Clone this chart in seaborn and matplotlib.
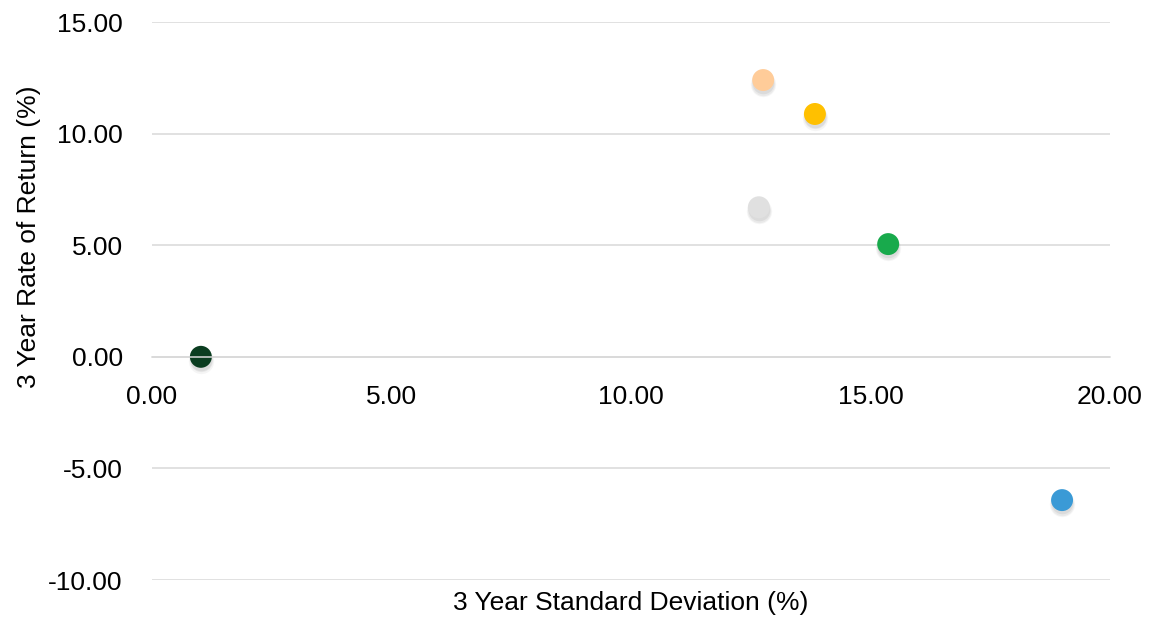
import matplotlib
matplotlib.use("Agg")
import matplotlib.pyplot as plt
import matplotlib.transforms as mtransforms
import pandas as pd
import seaborn as sns

# values
names = ["Cash", "Peach", "Gold", "Silver", "Green", "Blue"]
std_dev = [1.02, 12.76, 13.84, 12.67, 15.37, 19.00]
returns = [0.00, 12.40, 10.88, 6.70, 5.05, -6.42]
colors = ["#0B3D20", "#FFCC99", "#FFC000", "#E0E0E0", "#18AA4C", "#3A9AD6"]
x_ticks = [0, 5, 10, 15, 20]
y_ticks = [-10, -5, 0, 5, 10, 15]

sns.set_theme(style="white")
plt.rcParams["font.family"] = ["Liberation Sans", "DejaVu Sans"]

df = pd.DataFrame({"name": names, "sd": std_dev, "ret": returns})

fig = plt.figure(figsize=(11.55, 6.22), dpi=100)
ax = fig.add_axes([0.1316, 0.0675, 0.8294, 0.8971])

for y in y_ticks:
    ax.axhline(y, color="#D9D9D9", lw=1.1, zorder=0)

# soft shadow under each marker, a few faint layers
for size, dy, a in [(330, -3.0, 0.06), (280, -2.5, 0.08), (240, -2.0, 0.10)]:
    shadow = ax.scatter(df["sd"], df["ret"], s=size, color="#606060", alpha=a,
                        linewidths=0, zorder=1)
    shadow.set_offset_transform(ax.transData + mtransforms.ScaledTranslation(0, dy / 72, fig.dpi_scale_trans))

sns.scatterplot(data=df, x="sd", y="ret", hue="name", palette=colors,
                s=250, linewidth=0, legend=False, ax=ax, zorder=2)

ax.set_xlim(0, 20)
ax.set_ylim(-10, 15)
ax.set_xticks(x_ticks)
ax.set_yticks(y_ticks)
ax.set_xticklabels([f"{v:.2f}" for v in x_ticks])
ax.set_yticklabels([f"{v:.2f}" for v in y_ticks])
ax.tick_params(axis="x", length=0, pad=20, labelsize=19, colors="#000000")
ax.tick_params(axis="y", length=0, pad=21, labelsize=19, colors="#000000")

for s in ["top", "right", "left"]:
    ax.spines[s].set_visible(False)
ax.spines["bottom"].set_position(("data", 0))
ax.spines["bottom"].set_color("#D9D9D9")
ax.spines["bottom"].set_linewidth(1.1)

ax.set_xlabel("3 Year Standard Deviation (%)", fontsize=19, color="#000000")
ax.xaxis.set_label_coords(0.5, -0.02)
ax.set_ylabel("3 Year Rate of Return (%)", fontsize=19, color="#000000")
ax.yaxis.label.set_va("center")
ax.yaxis.set_label_coords(-0.128, 0.615)

fig.savefig("out.png", dpi=100)
